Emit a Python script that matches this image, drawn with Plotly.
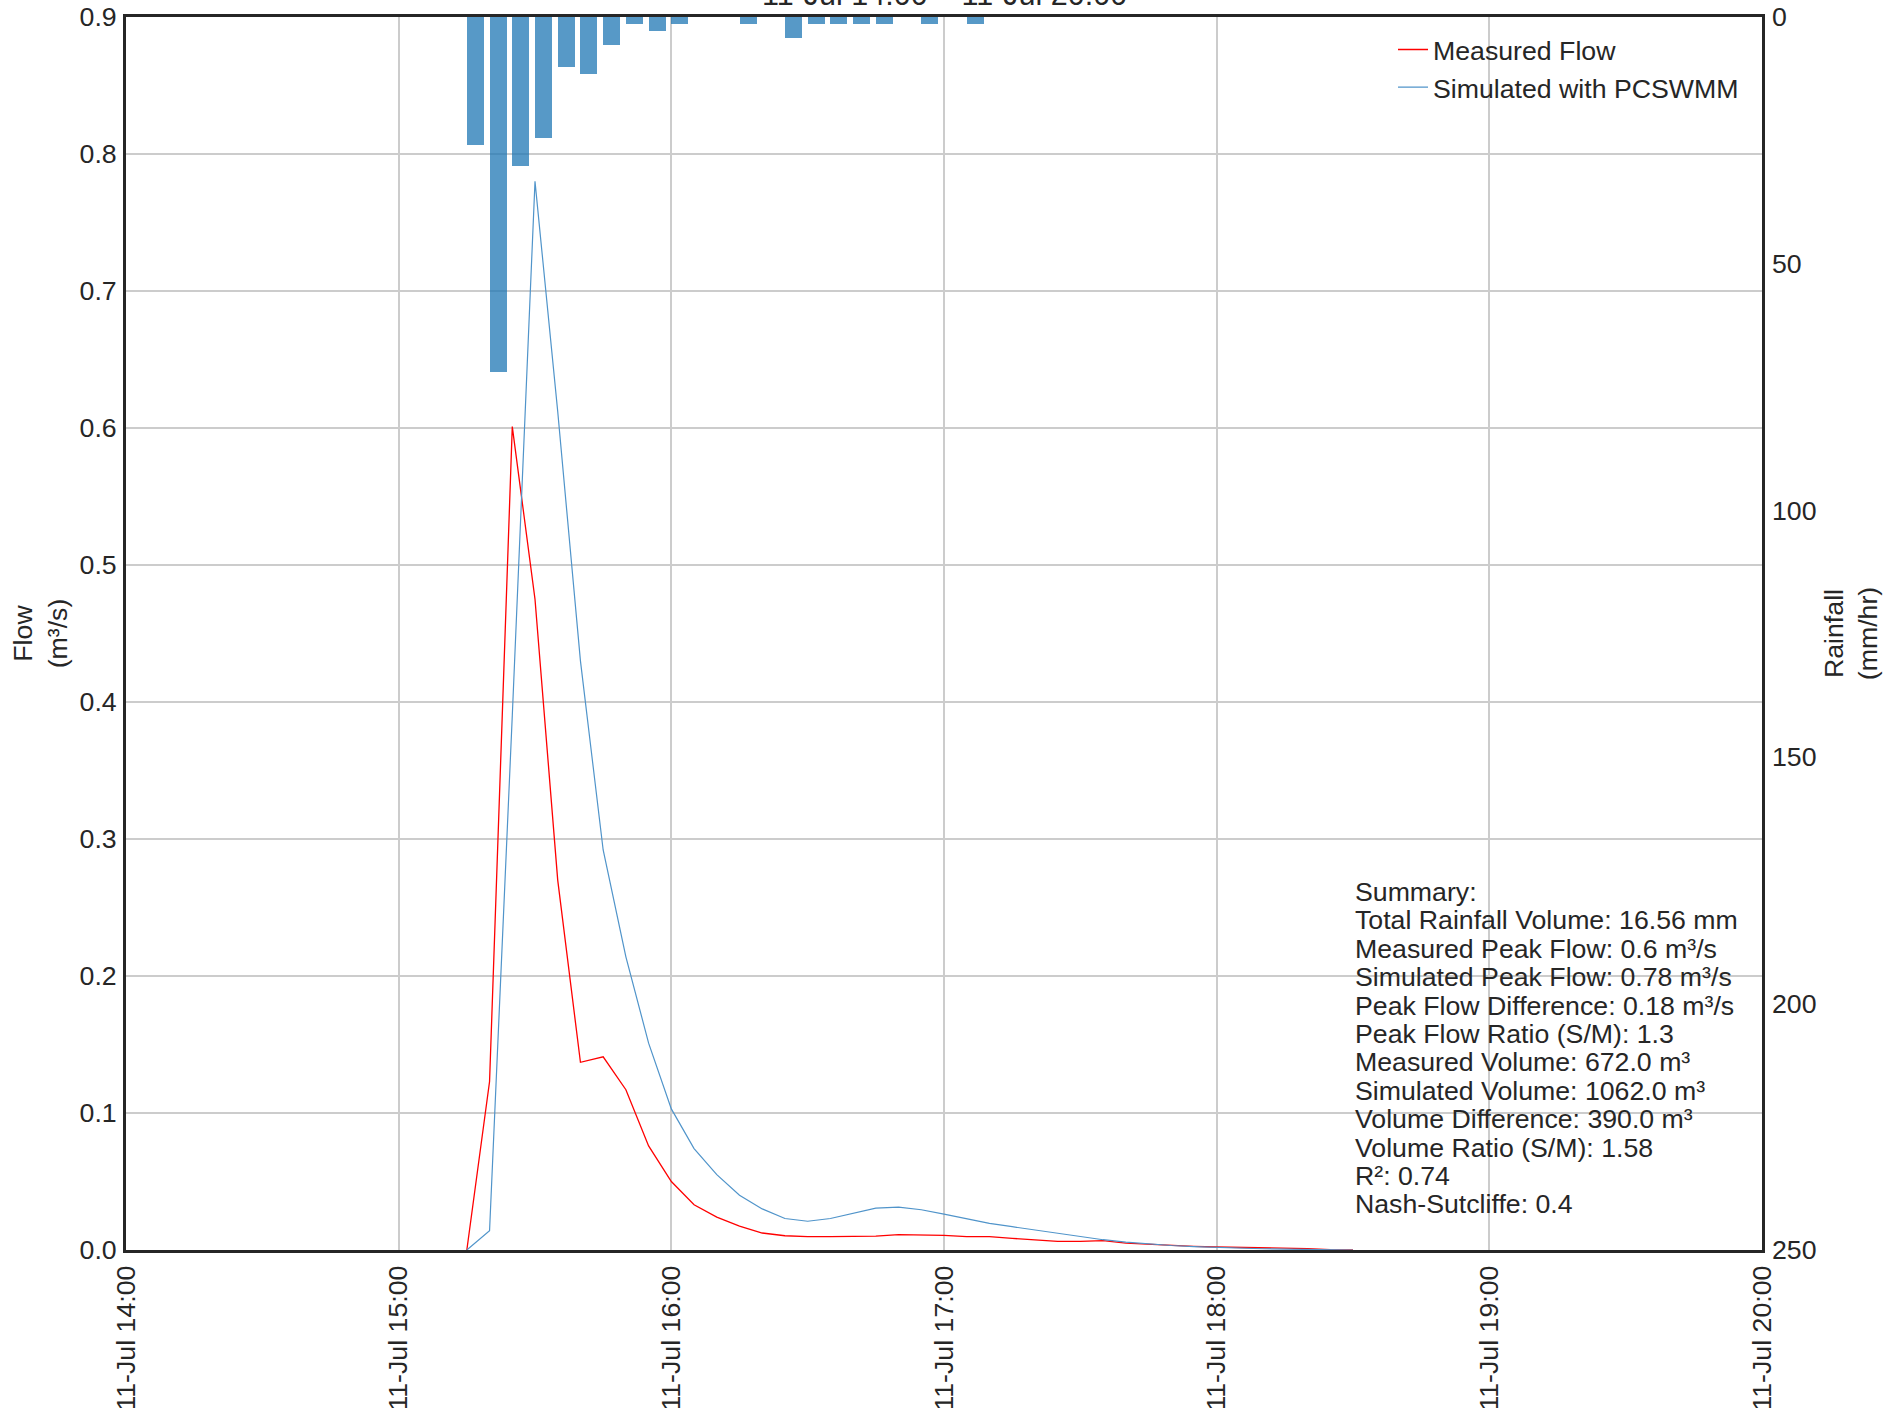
import plotly.graph_objects as go

DAY = "2023-07-11 "

# ---- data ----
flow_times = ["15:15", "15:20", "15:25", "15:30", "15:35", "15:40", "15:45", "15:50",
              "15:55", "16:00", "16:05", "16:10", "16:15", "16:20", "16:25", "16:30",
              "16:35", "16:40", "16:45", "16:50", "16:55", "17:00", "17:05", "17:10",
              "17:15", "17:20", "17:25", "17:30", "17:35", "17:40", "17:45", "17:50",
              "17:55", "18:00", "18:05", "18:10", "18:15", "18:20", "18:25", "18:30"]
measured_flow = [0.0, 0.123, 0.601, 0.475, 0.27, 0.137, 0.141, 0.117,
                 0.076, 0.050, 0.033, 0.024, 0.0175, 0.0124, 0.0104, 0.0097,
                 0.0097, 0.0100, 0.0102, 0.0112, 0.0112, 0.0107, 0.0097, 0.0097,
                 0.0085, 0.0072, 0.0063, 0.0063, 0.0068, 0.0050, 0.0041, 0.0033,
                 0.0027, 0.0022, 0.0020, 0.0018, 0.0015, 0.0010, 0.0003, 0.0]
simulated_flow = [0.0, 0.014, 0.39, 0.78, 0.612, 0.43, 0.292, 0.214,
                  0.151, 0.103, 0.074, 0.055, 0.040, 0.030, 0.023, 0.021,
                  0.023, 0.027, 0.0306, 0.0313, 0.0294, 0.0262, 0.0226, 0.0194,
                  0.017, 0.0146, 0.0121, 0.0097, 0.0075, 0.0058, 0.0043, 0.0033,
                  0.0025, 0.0018, 0.0013, 0.0009, 0.0006, 0.0003, 0.0001, 0.0]

rain_times = ["15:15", "15:20", "15:25", "15:30", "15:35", "15:40", "15:45", "15:50",
              "15:55", "16:00", "16:15", "16:25", "16:30", "16:35", "16:40", "16:45",
              "16:55", "17:05"]
rain_rate = [25.92, 72.0, 30.24, 24.48, 10.08, 11.52, 5.76, 1.44,
             2.88, 1.44, 1.44, 4.32, 1.44, 1.44, 1.44, 1.44,
             1.44, 1.44]

summary_lines = ["Summary:",
                 "Total Rainfall Volume: 16.56 mm",
                 "Measured Peak Flow: 0.6 m³/s",
                 "Simulated Peak Flow: 0.78 m³/s",
                 "Peak Flow Difference: 0.18 m³/s",
                 "Peak Flow Ratio (S/M): 1.3",
                 "Measured Volume: 672.0 m³",
                 "Simulated Volume: 1062.0 m³",
                 "Volume Difference: 390.0 m³",
                 "Volume Ratio (S/M): 1.58",
                 "R²: 0.74",
                 "Nash-Sutcliffe: 0.4"]

title_text = "11-Jul 14:00 – 11-Jul 20:00"
x_start, x_end = DAY + "14:00", DAY + "20:00"

# ---- figure ----
W, H = 1904, 1408
ML, MR, MT, MB = 126, 142, 17, 158
PW, PH = W - ML - MR, H - MT - MB
FONT = "Liberation Sans, Arial, sans-serif"
FS = 26.7
TXT = "#262626"

fig = go.Figure()
fig.add_trace(go.Bar(
    x=[DAY + t for t in rain_times], y=rain_rate, yaxis="y2",
    width=225000, offset=0,
    marker=dict(color="rgba(31,119,180,0.75)", line_width=0),
    showlegend=False, name="Rainfall"))
fig.add_trace(go.Scatter(
    x=[DAY + t for t in flow_times], y=measured_flow, mode="lines",
    line=dict(color="red", width=1.3), name="Measured Flow"))
fig.add_trace(go.Scatter(
    x=[DAY + t for t in flow_times], y=simulated_flow, mode="lines",
    line=dict(color="rgb(80,148,202)", width=1.2), name="Simulated with PCSWMM"))

axis_common = dict(showline=True, linecolor=TXT, linewidth=3, mirror=True,
                   ticks="", zeroline=False, gridcolor="#cccccc", gridwidth=1.6,
                   automargin=False, ticklabeloverflow="allow",
                   tickfont=dict(size=FS, color=TXT, family=FONT))

annotations = [dict(text=title_text, xref="paper", yref="paper", x=0.5, y=1.0,
                    xanchor="center", yanchor="middle", yshift=23, showarrow=False,
                    font=dict(size=30.5, color=TXT, family=FONT))]

# summary text, one annotation per line (positions in px)
x0_px = 1353
base0 = 900
spacing = 28.4
for i, line in enumerate(summary_lines):
    baseline = base0 + i * spacing
    center = baseline - 0.3 * FS
    annotations.append(dict(
        text=line, xref="paper", yref="paper",
        x=(x0_px - ML) / PW, y=(H - MB - center) / PH,
        xanchor="left", yanchor="middle", showarrow=False,
        font=dict(size=FS, color=TXT, family=FONT)))

fig.update_layout(
    width=W, height=H,
    margin=dict(l=ML, r=MR, t=MT, b=MB, pad=0, autoexpand=False),
    paper_bgcolor="white", plot_bgcolor="white",
    font=dict(family=FONT, size=FS, color=TXT),
    bargap=0,
    xaxis=dict(type="date", range=[x_start, x_end], tick0=x_start, dtick=3600000,
               tickformat="%d-%b %H:%M", tickangle=-90, showgrid=True,
               ticklabelstandoff=2, **axis_common),
    yaxis=dict(range=[0, 0.9], dtick=0.1, tickformat=".1f", showgrid=True,
               ticklabelstandoff=1,
               title=dict(text="Flow<br>(m³/s)", standoff=5,
                          font=dict(size=FS, color=TXT, family=FONT)),
               **axis_common),
    yaxis2=dict(overlaying="y", side="right", range=[250, 0], dtick=50,
                showgrid=False, showline=False, ticks="", zeroline=False,
                automargin=False, ticklabelstandoff=9, ticklabeloverflow="allow",
                tickfont=dict(size=FS, color=TXT, family=FONT),
                title=dict(text="Rainfall<br>(mm/hr)", standoff=8,
                           font=dict(size=FS, color=TXT, family=FONT))),
    legend=dict(x=0.989, y=0.993, xanchor="right", yanchor="top",
                bgcolor="rgba(0,0,0,0)", font=dict(size=FS, color=TXT, family=FONT)),
    annotations=annotations,
)

fig.write_html("out.html", config={"displayModeBar": False},
               post_script="document.body.style.margin='0';document.body.style.padding='0';")
